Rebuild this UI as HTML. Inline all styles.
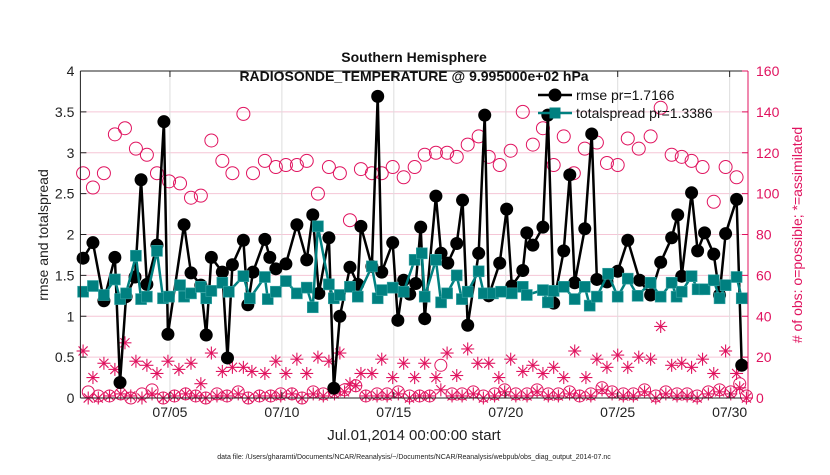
<!DOCTYPE html>
<html><head><meta charset="utf-8"><style>
body{margin:0;background:#fff;}
svg{font-family:"Liberation Sans",sans-serif;}
</style></head><body>
<svg id="chart" width="830" height="470" viewBox="0 0 830 470">
<g id="grid"></g>
<g id="marks"></g>
<g id="axes"></g>
</svg>
<script>
// ----- data -----
const rmseDays=[0.12,0.56,1.05,1.54,1.77,2.04,2.44,2.71,2.97,3.42,3.73,3.91,4.63,4.94,5.38,5.62,5.85,6.34,6.57,6.79,7.28,7.48,7.71,8.24,8.46,8.73,9.18,9.67,10.11,10.38,10.65,11.10,11.32,11.59,12.04,12.39,12.53,13.02,13.28,13.46,13.95,14.18,14.44,14.71,14.98,15.20,15.38,15.88,16.11,16.41,16.81,17.07,17.30,17.79,18.06,18.24,18.73,19.04,19.27,19.76,19.94,20.21,20.66,20.88,21.14,21.59,21.86,22.08,22.53,22.84,23.07,23.52,24.00,24.45,24.98,25.47,25.92,26.41,26.68,26.86,27.30,27.57,27.88,28.29,28.55,28.82,29.31,29.54];
const rmseVals=[1.71,1.90,1.19,1.72,0.19,1.24,1.48,2.67,1.39,1.87,3.38,0.78,2.12,1.53,1.38,0.77,1.72,1.54,0.49,1.63,1.93,1.14,1.54,1.94,1.72,1.58,1.64,2.12,1.69,2.24,1.28,1.96,0.12,1.00,1.60,1.39,2.10,1.61,3.69,1.54,1.90,0.95,1.44,1.27,1.40,2.09,0.97,2.47,1.77,1.65,1.89,2.42,0.89,1.77,3.46,1.25,1.65,2.31,1.37,1.56,2.02,1.87,2.09,3.46,1.16,1.80,2.73,1.41,2.07,3.23,1.45,1.42,1.55,1.93,1.44,1.26,1.66,1.96,2.24,1.49,2.51,1.80,2.02,1.76,1.26,2.01,2.43,0.40];
const spreadDays=[0.12,0.56,1.05,1.54,1.77,2.04,2.48,2.71,2.97,3.42,3.69,3.96,4.45,4.63,4.94,5.38,5.62,5.85,6.34,6.63,7.28,7.57,8.24,8.37,8.73,9.18,9.67,10.11,10.38,10.61,11.10,11.32,11.59,12.04,12.39,13.02,13.28,13.46,13.95,14.44,14.93,15.25,15.38,15.88,16.11,16.38,16.81,17.04,17.30,17.79,18.02,18.43,18.79,19.27,19.76,19.94,20.66,20.88,21.14,21.59,22.08,22.53,22.75,23.07,23.57,24.00,24.45,24.89,25.47,25.92,26.41,26.63,26.86,27.30,27.57,27.88,28.29,28.55,28.82,29.31,29.54];
const spreadVals=[1.30,1.37,1.26,1.45,1.21,1.28,1.74,1.21,1.24,1.80,1.22,1.24,1.38,1.24,1.28,1.36,1.22,1.31,1.41,1.30,1.49,1.22,1.48,1.21,1.30,1.43,1.28,1.35,1.11,2.10,1.39,1.22,1.26,1.36,1.24,1.61,1.22,1.32,1.35,1.30,1.69,1.77,1.24,1.69,1.17,1.28,1.50,1.21,1.30,1.55,1.28,1.28,1.30,1.28,1.36,1.26,1.32,1.17,1.31,1.36,1.21,1.36,1.13,1.24,1.52,1.24,1.46,1.25,1.41,1.24,1.41,1.24,1.30,1.49,1.33,1.33,1.44,1.22,1.38,1.48,1.22];
const possDays=[0.12,0.56,1.05,1.54,1.99,2.48,2.97,3.42,3.96,4.45,4.94,5.38,5.85,6.34,6.79,7.28,7.71,8.24,8.73,9.18,9.67,10.11,10.61,11.10,11.59,12.04,12.53,13.02,13.46,13.95,14.44,14.93,15.38,15.88,16.38,16.81,17.30,17.79,18.24,18.73,19.22,19.76,20.21,20.66,21.14,21.59,22.04,22.53,23.07,23.52,24.00,24.45,24.94,25.47,25.92,26.41,26.86,27.30,27.79,28.29,28.82,29.31];
const possVals=[110,103,110,129,132,122,119,110,106,105,98,99,126,116,110,139,110,116,113,114,114,116,100,113,110,87,112,110,110,113,108,113,119,120,120,118,124,128,118,114,121,140,124,132,114,128,110,122,125,115,114,127,122,128,142,119,118,116,113,96,113,108];
const assimDays=[0.12,0.56,1.05,1.54,1.99,2.48,2.97,3.42,3.91,4.40,4.94,5.38,5.85,6.34,6.79,7.28,7.66,8.24,8.73,9.18,9.67,10.11,10.61,11.10,11.59,12.04,12.53,13.02,13.46,13.95,14.44,14.93,15.38,15.88,16.38,16.81,17.30,17.75,18.24,18.69,19.22,19.76,20.21,20.66,21.14,21.59,22.08,22.58,23.07,23.52,24.00,24.45,24.94,25.47,25.92,26.41,26.86,27.30,27.79,28.29,28.82,29.31];
const assimVals=[23,10,17,14,27,18,16,12,18,14,17,7,22,13,15,15,13,12,18,12,19,12,20,18,22,7,12,12,19,10,17,10,17,10,22,11,24,17,17,10,19,13,16,12,15,10,23,10,19,15,21,15,20,19,35,16,17,15,19,12,23,12];
const lowDays=[0.35,0.8,1.3,1.8,2.25,2.75,3.2,3.7,4.2,4.7,5.15,5.6,6.1,6.55,7.05,7.5,8.0,8.5,8.95,9.45,9.9,10.4,10.85,11.35,11.8,12.3,12.75,13.25,13.7,14.2,14.7,15.15,15.6,16.1,16.6,17.05,17.55,18.0,18.5,18.95,19.45,19.95,20.4,20.9,21.35,21.85,22.3,22.8,23.3,23.75,24.25,24.7,25.2,25.7,26.15,26.65,27.1,27.55,28.05,28.55,29.05,29.45,29.75];
const lowPoss=[3,1,1,2,0,2,4,0,1,2,1,0,2,1,3,0,1,1,2,2,0,3,2,3,4,6,1,2,2,3,1,1,1,16,2,2,3,1,2,4,2,2,4,2,2,3,1,2,5,3,2,2,4,1,3,2,2,1,3,4,3,7,1];
const lowAssim=[0,0,1,2,1,0,2,0,1,2,1,0,1,1,2,0,1,1,1,2,0,2,1,2,3,6,1,1,1,2,0,1,1,4,1,1,2,0,1,3,1,1,3,1,1,2,1,1,4,2,1,1,3,0,2,1,1,0,2,3,2,5,0];
const leftTicks=[0,0.5,1,1.5,2,2.5,3,3.5,4];
const leftTickLabels=["0","0.5","1","1.5","2","2.5","3","3.5","4"];
const rightTicks=[0,20,40,60,80,100,120,140,160];
const xTickDays=[4,9,14,19,24,29];
const xTickLabels=["07/05","07/10","07/15","07/20","07/25","07/30"];

// ----- scales -----
const X0=80.4,X1=748,T=71,B=398,DMAX=29.82;
const xs=d=>X0+(d/DMAX)*(X1-X0);
const yl=v=>B-(v/4)*(B-T);
const yr=v=>B-(v/160)*(B-T);
const MAG="#e0135f",TEAL="#008080";
const NS="http://www.w3.org/2000/svg";
function mk(tag,parent,attrs){const e=document.createElementNS(NS,tag);for(const k in attrs)e.setAttribute(k,attrs[k]);parent.appendChild(e);return e;}
const grid=document.getElementById('grid'),marks=document.getElementById('marks'),axes=document.getElementById('axes');

mk('rect',grid,{x:X0,y:T,width:X1-X0,height:B-T,fill:'#fff'});
leftTicks.forEach((t,i)=>{
  if(i>0&&i<leftTicks.length-1){const g=mk('line',grid,{x1:X0,x2:X1,y1:yl(t),y2:yl(t),stroke:'#f5c6d6','stroke-width':1});
  
  }
});
xTickDays.forEach(d=>{const g=mk('line',grid,{x1:xs(d),x2:xs(d),y1:T,y2:B,stroke:'#dddddd','stroke-width':1});

});

// low counts
lowDays.forEach((d,i)=>{
  const c=mk('circle',marks,{cx:xs(d),cy:yr(lowPoss[i]),r:6,fill:'none',stroke:MAG,'stroke-width':1});
  
  
});
function star(x,y,name){
  const g=mk('g',marks,{stroke:MAG,'stroke-width':1.1});
  
  
  const r=6.5;
  mk('line',g,{x1:x-r,x2:x+r,y1:y,y2:y});
  mk('line',g,{x1:x,x2:x,y1:y-r,y2:y+r});
  mk('line',g,{x1:x-r*0.7,x2:x+r*0.7,y1:y-r*0.7,y2:y+r*0.7});
  mk('line',g,{x1:x-r*0.7,x2:x+r*0.7,y1:y+r*0.7,y2:y-r*0.7});
}
lowDays.forEach((d,i)=>star(xs(d),yr(lowAssim[i]),'assimilated-obs-low'));
possDays.forEach((d,i)=>{
  const c=mk('circle',marks,{cx:xs(d),cy:yr(possVals[i]),r:6.5,fill:'none',stroke:MAG,'stroke-width':1});
  
  
});
assimDays.forEach((d,i)=>star(xs(d),yr(assimVals[i]),'assimilated-obs-point'));

// rmse
const rl=mk('polyline',marks,{points:rmseDays.map((d,i)=>xs(d)+','+yl(rmseVals[i])).join(' '),fill:'none',stroke:'#000','stroke-width':2.5});


rmseDays.forEach((d,i)=>{
  const c=mk('circle',marks,{cx:xs(d),cy:yl(rmseVals[i]),r:6.5,fill:'#000'});
  
  
});
// spread
const sl=mk('polyline',marks,{points:spreadDays.map((d,i)=>xs(d)+','+yl(spreadVals[i])).join(' '),fill:'none',stroke:TEAL,'stroke-width':2.5});


spreadDays.forEach((d,i)=>{
  const c=mk('rect',marks,{x:xs(d)-5.5,y:yl(spreadVals[i])-5.5,width:11,height:11,fill:TEAL,stroke:'#3aa5a5','stroke-width':0.6});
  
  
});

// axes frame
mk('line',axes,{x1:X0,x2:X1,y1:T,y2:T,stroke:'#222','stroke-width':1});
mk('line',axes,{x1:X0,x2:X1,y1:B,y2:B,stroke:'#222','stroke-width':1});
mk('line',axes,{x1:X0,x2:X0,y1:T,y2:B,stroke:'#222','stroke-width':1});
mk('line',axes,{x1:X1,x2:X1,y1:T,y2:B,stroke:MAG,'stroke-width':1});
leftTicks.forEach((t,i)=>{
  mk('line',axes,{x1:X0,x2:X0+6,y1:yl(t),y2:yl(t),stroke:'#222'});
  const tx=mk('text',axes,{x:X0-6,y:yl(t)+5,'text-anchor':'end','font-size':14,fill:'#222'});
  tx.textContent=leftTickLabels[i];
  
  
});
rightTicks.forEach(t=>{
  mk('line',axes,{x1:X1-6,x2:X1,y1:yr(t),y2:yr(t),stroke:MAG});
  const tx=mk('text',axes,{x:X1+8,y:yr(t)+5,'font-size':14,fill:MAG});
  tx.textContent=String(t);
  
  
});
xTickDays.forEach((d,i)=>{
  mk('line',axes,{x1:xs(d),x2:xs(d),y1:B,y2:B-6,stroke:'#222'});
  mk('line',axes,{x1:xs(d),x2:xs(d),y1:T,y2:T+6,stroke:'#222'});
  const tx=mk('text',axes,{x:xs(d),y:B+19,'text-anchor':'middle','font-size':14,fill:'#222'});
  tx.textContent=xTickLabels[i];
  
  
});
</script>
<svg width="830" height="470" style="position:absolute;left:0;top:0;pointer-events:none">
<g font-family="Liberation Sans, sans-serif">
<text x="414" y="62" text-anchor="middle" font-size="14" font-weight="bold" fill="#111">Southern Hemisphere</text>
<text x="414" y="81" text-anchor="middle" font-size="14" font-weight="bold" fill="#111">RADIOSONDE_TEMPERATURE @ 9.995000e+02 hPa</text>
<text x="414" y="440" text-anchor="middle" font-size="15" fill="#222">Jul.01,2014 00:00:00 start</text>
<text transform="translate(48,235) rotate(-90)" text-anchor="middle" font-size="14" fill="#222">rmse and totalspread</text>
<text transform="translate(802,235) rotate(-90)" text-anchor="middle" font-size="14" fill="#e0135f"># of obs: o=possible; *=assimilated</text>
<text x="414" y="459" text-anchor="middle" font-size="7" fill="#222">data file: /Users/gharamti/Documents/NCAR/Reanalysis/~/Documents/NCAR/Reanalysis/webpub/obs_diag_output_2014-07.nc</text>
<g>
<g>
<line x1="538" x2="572" y1="95" y2="95" stroke="#000" stroke-width="2.5"/>
<circle cx="555" cy="95" r="6.5" fill="#000"/>
<text x="576" y="100" font-size="14" fill="#111">rmse pr=1.7166</text>
</g>
<g>
<line x1="538" x2="572" y1="113" y2="113" stroke="#008080" stroke-width="2.5"/>
<rect x="549.5" y="107.5" width="11" height="11" fill="#008080"/>
<text x="576" y="118" font-size="14" fill="#111">totalspread pr=1.3386</text>
</g>
</g>
</g>
</svg>
</body></html>
